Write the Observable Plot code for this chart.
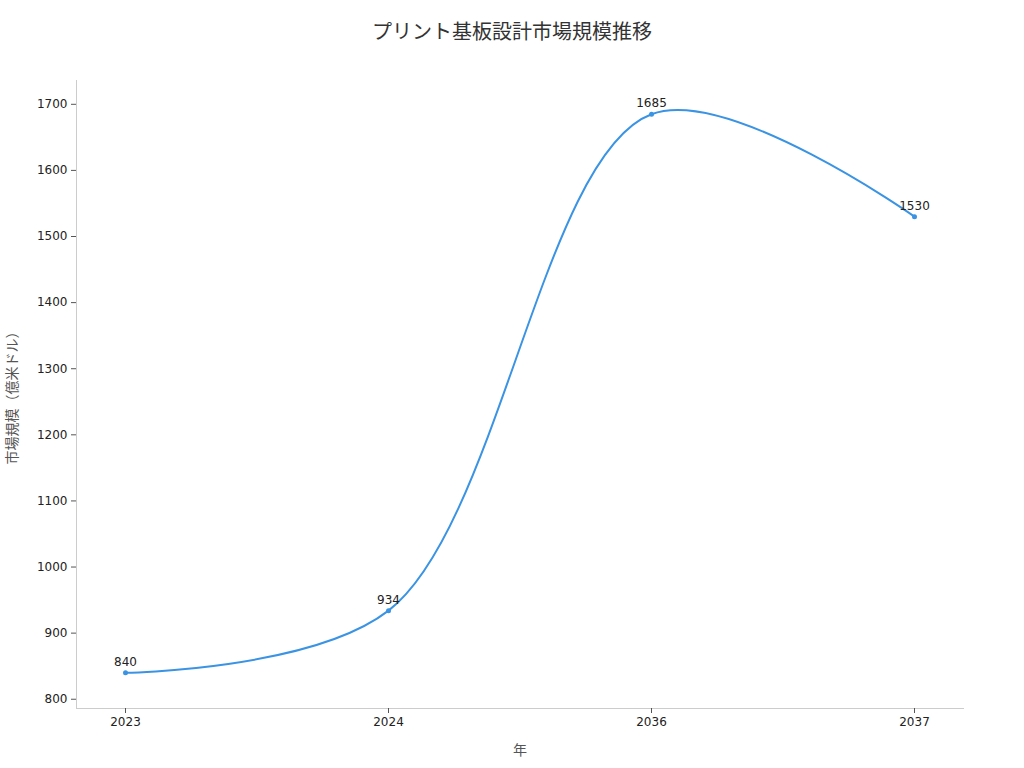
<!DOCTYPE html>
<html>
<head>
<meta charset="utf-8">
<script src="https://cdn.jsdelivr.net/npm/d3@7"></script>
<script src="https://cdn.jsdelivr.net/npm/@observablehq/plot@0.6"></script>
<style>
  html, body { margin: 0; padding: 0; background: #fff; }
  body { width: 1024px; height: 768px; overflow: hidden; font-family: "DejaVu Sans", "Noto Sans CJK JP", sans-serif; }
  #title { height: 64px; line-height: 64px; text-align: center; font-size: 20px; color: #333; }
</style>
</head>
<body>
<div id="title">プリント基板設計市場規模推移</div>
<div id="chart"></div>
<script>
const years = ["2023", "2024", "2036", "2037"];
const values = [840, 934, 1685, 1530];
const yTicks = [800, 900, 1000, 1100, 1200, 1300, 1400, 1500, 1600, 1700];
const yLabel = "市場規模（億米ドル）";
const xLabel = "年";

const data = years.map((y, i) => ({year: y, value: values[i]}));
const lineColor = "#3a93e3";

const chart = Plot.plot({
  width: 1024,
  height: 704,
  marginLeft: 76,
  marginRight: 61,
  marginTop: 16,
  marginBottom: 60,
  style: {fontFamily: '"DejaVu Sans", "Noto Sans CJK JP", sans-serif', fontSize: "12px", background: "#fff", color: "#222"},
  x: {type: "point", domain: years, padding: 0.18, label: null},
  y: {domain: [786, 1736], label: null},
  marks: [
    Plot.frame({anchor: "left", stroke: "#ccc"}),
    Plot.frame({anchor: "bottom", stroke: "#ccc"}),
    Plot.axisY({ticks: yTicks, tickFormat: d => String(d), tickSize: 5, tickPadding: 4, stroke: "#555", fill: "#222", label: null, fontSize: 12}),
    Plot.axisX({tickSize: 5, tickPadding: 4, stroke: "#555", fill: "#222", label: null, fontSize: 12}),
    Plot.text([yLabel], {frameAnchor: "left", textAnchor: "middle", rotate: -90, dx: -64, fill: "#555", fontSize: 14}),
    Plot.text([xLabel], {frameAnchor: "bottom", textAnchor: "middle", dy: 46, fill: "#555", fontSize: 14}),
    Plot.line(data, {x: "year", y: "value", curve: "catmull-rom", stroke: lineColor, strokeWidth: 2}),
    Plot.dot(data, {x: "year", y: "value", r: 2.5, fill: lineColor, stroke: null}),
    Plot.text(data, {x: "year", y: "value", text: d => String(d.value), dy: -11, fill: "#222", fontSize: 12})
  ]
});
document.getElementById("chart").appendChild(chart);
</script>
</body>
</html>
